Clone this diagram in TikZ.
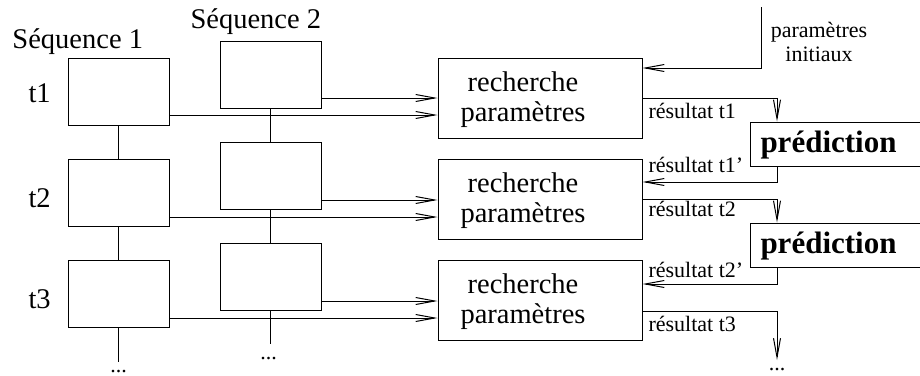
\documentclass[tikz,border=0pt]{standalone}
\usepackage{fontspec}
\setmainfont{Liberation Serif}
\usetikzlibrary{arrows.meta}
\begin{document}
\begin{tikzpicture}[x=1pt,y=-1pt,line width=1pt,
  box/.style={draw,minimum width=101pt,minimum height=67pt,inner sep=0pt},
  rbox/.style={draw,minimum width=204pt,minimum height=80pt,inner sep=0pt},
  pbox/.style={draw,minimum width=200pt,minimum height=44pt,inner sep=0pt,anchor=west},
  big/.style={font=\fontsize{28.5}{30}\selectfont,inner sep=0pt},
  small/.style={font=\fontsize{22}{24}\selectfont,inner sep=0pt},
  bold/.style={font=\fontsize{31}{33}\selectfont\bfseries,inner sep=0pt},
  arr/.style={-{Straight Barb[length=19pt,width=7pt]}},
]
\useasboundingbox (0,0) rectangle (920,375);
\clip (0,0) rectangle (920,375);

% sequence labels and time steps
\node[big,anchor=base west] (L1) at (12,48) {Séquence 1};
\node[big,anchor=base west] (L2) at (190,28) {Séquence 2};
\node[big,anchor=base west] (T1) at (28,102) {t1};
\node[big,anchor=base west] (T2) at (28,207) {t2};
\node[big,anchor=base west] (T3) at (28,308) {t3};

% sequence boxes
\node[box] (S1a) at (118.5,91.5) {};
\node[box] (S1b) at (118.5,193) {};
\node[box] (S1c) at (118.5,294) {};
\node[box] (S2a) at (270.5,74.5) {};
\node[box] (S2b) at (270.5,176) {};
\node[box] (S2c) at (270.5,277) {};

% parameter search boxes
\node[rbox] (R1) at (540,98) {};
\node[rbox] (R2) at (540,199.5) {};
\node[rbox] (R3) at (540,300.5) {};
\node[big,align=center] (R1t) at (523,99.5) {recherche\\paramètres};
\node[big,align=center] (R2t) at (523,201) {recherche\\paramètres};
\node[big,align=center] (R3t) at (523,302) {recherche\\paramètres};

% prediction boxes
\node[pbox] (P1) at (750,144) {};
\node[pbox] (P2) at (750,245) {};
\node[bold,anchor=base west] (P1t) at (760,152) {prédiction};
\node[bold,anchor=base west] (P2t) at (760,253) {prédiction};

% initial parameters
\node[small,align=center] (PI) at (819,42) {paramètres\\initiaux};
\coordinate (init) at (761,7);
\draw[arr] (init) |- ([yshift=30pt]R1.east);

% vertical links inside each sequence
\coordinate (e1) at (118.5,362);
\coordinate (e2) at (270.5,344);
\draw (S1a) -- (S1b);
\draw (S1b) -- (S1c);
\draw (S1c) -- (e1);
\draw (S2a) -- (S2b);
\draw (S2b) -- (S2c);
\draw (S2c) -- (e2);
\node[small,anchor=base] (D1) at (118.5,372) {...};
\node[small,anchor=base] (D2) at (268.5,359) {...};

% inputs to the parameter search
\coordinate (s1a) at ([yshift=-23.5pt]S1a.east);
\coordinate (s2a) at ([yshift=-23.5pt]S2a.east);
\coordinate (s1b) at ([yshift=-24pt]S1b.east);
\coordinate (s2b) at ([yshift=-24pt]S2b.east);
\coordinate (s1c) at ([yshift=-24pt]S1c.east);
\coordinate (s2c) at ([yshift=-24pt]S2c.east);
\draw[arr] (s2a) -- (s2a -| R1.west);
\draw[arr] (s1a) -- (s1a -| R1.west);
\draw[arr] (s2b) -- (s2b -| R2.west);
\draw[arr] (s1b) -- (s1b -| R2.west);
\draw[arr] (s2c) -- (s2c -| R3.west);
\draw[arr] (s1c) -- (s1c -| R3.west);

% results and predictions
\coordinate (e3) at (777,360);
\draw[arr] (R1.east) -| ([xshift=27pt]P1.north west);
\draw[arr] ([xshift=27pt]P1.south west) |- ([yshift=17.5pt]R2.east);
\draw[arr] ([yshift=0.5pt]R2.east) -| ([xshift=27pt]P2.north west);
\draw[arr] ([xshift=27pt]P2.south west) |- ([yshift=16.5pt]R3.east);
\draw[arr] ([yshift=-10.5pt]R3.east) -| (e3);
\node[small,anchor=base] (D3) at (777,370) {...};

\node[small,anchor=base west] (Q1) at (648,118) {résultat t1};
\node[small,anchor=base west] (Q1p) at (648,172) {résultat t1’};
\node[small,anchor=base west] (Q2) at (648,216) {résultat t2};
\node[small,anchor=base west] (Q2p) at (648,277) {résultat t2’};
\node[small,anchor=base west] (Q3) at (648,331) {résultat t3};
\end{tikzpicture}
\end{document}
